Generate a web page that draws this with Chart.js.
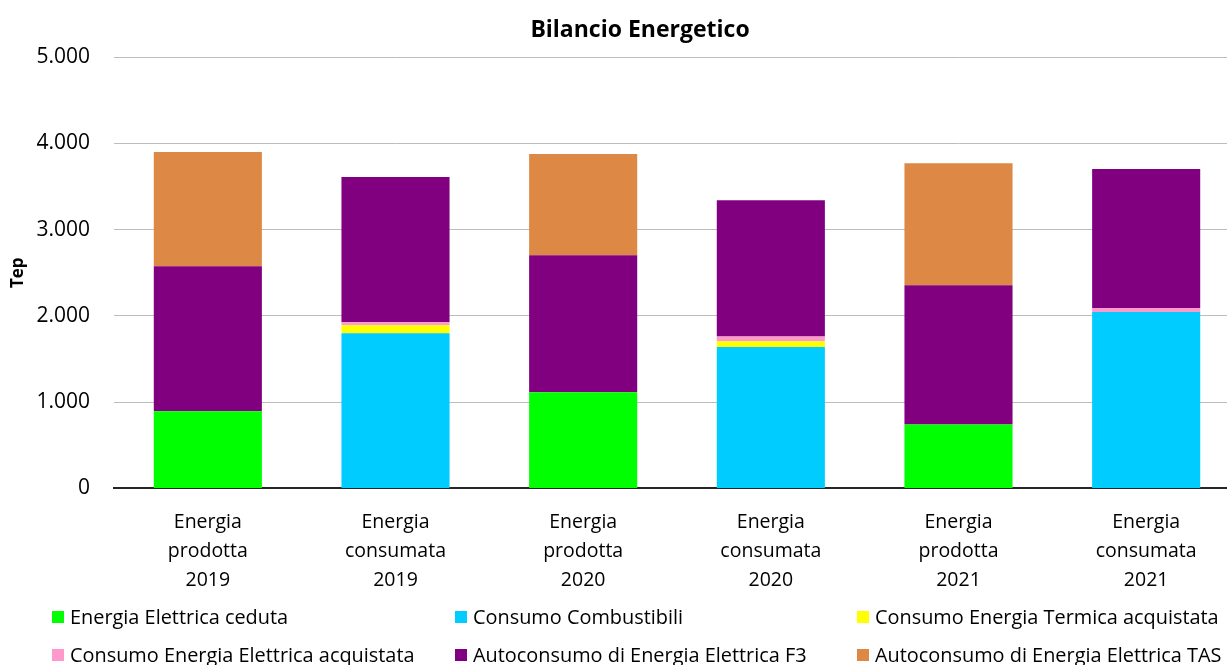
<!DOCTYPE html>
<html><head><meta charset="utf-8">
<script src="https://cdn.jsdelivr.net/npm/chart.js@4.4.1/dist/chart.umd.min.js"></script>
<style>
html,body{margin:0;padding:0;background:#fff;overflow:hidden;}
#wrap{position:relative;width:1227px;height:665px;overflow:hidden;font-family:"Open Sans",sans-serif;}
#cwrap{position:absolute;left:0;top:0;width:1280px;height:617px;}
#title{position:absolute;left:440px;width:400px;top:12px;text-align:center;font-family:"Open Sans",sans-serif;font-weight:bold;font-size:23px;line-height:32px;color:#000;}
#legend{position:absolute;left:0;top:602px;width:1227px;height:63px;}
.li{position:absolute;font-size:19.9px;color:#000;white-space:nowrap;display:flex;align-items:center;line-height:26px;}
.li span.b{display:inline-block;width:12px;height:12px;margin-right:6px;}
</style></head>
<body><div id="wrap"><div id="cwrap"><canvas id="c"></canvas></div><div id="title">Bilancio Energetico</div><div id="legend"></div></div>
<script>
const chartTitle = "Bilancio Energetico";
const categories = [
  ["Energia","prodotta","2019"],
  ["Energia","consumata","2019"],
  ["Energia","prodotta","2020"],
  ["Energia","consumata","2020"],
  ["Energia","prodotta","2021"],
  ["Energia","consumata","2021"]
];
const seriesNames = [
  "Energia Elettrica ceduta",
  "Consumo Combustibili",
  "Consumo Energia Termica acquistata",
  "Consumo Energia Elettrica acquistata",
  "Autoconsumo di Energia Elettrica F3",
  "Autoconsumo di Energia Elettrica TAS"
];
const energiaElettricaCeduta = [893, 0, 1114, 0, 742, 0];
const consumoCombustibili = [0, 1798, 0, 1639, 0, 2045];
const consumoTermica = [0, 93, 0, 66, 0, 0];
const consumoElettricaAcquistata = [0, 35, 0, 55, 0, 43];
const autoconsumoF3 = [1682, 1682, 1589, 1581, 1613, 1613];
const autoconsumoTAS = [1323, 0, 1172, 0, 1415, 0];
const yTicks = [0, 1000, 2000, 3000, 4000, 5000];
const colors = ["#00FF00","#00CCFF","#FFFF00","#FF99CC","#800080","#DD8844"];

document.getElementById('title').textContent = chartTitle;
const seriesValues = [energiaElettricaCeduta, consumoCombustibili, consumoTermica, consumoElettricaAcquistata, autoconsumoF3, autoconsumoTAS];
const datasets = seriesNames.map((n,i)=>({
  label:n, data:seriesValues[i], backgroundColor:colors[i],
  borderWidth:0, barPercentage:0.576, categoryPercentage:1.0
}));
function fmt(v){ return v>=1000 ? Math.floor(v/1000)+"."+String(v%1000).padStart(3,"0") : String(v); }

new Chart(document.getElementById('c'), {
  type:'bar',
  data:{labels:categories, datasets},
  options:{
    responsive:true, maintainAspectRatio:false, animation:false,
    layout:{padding:{left:2,right:40,top:57,bottom:10}},
    plugins:{
      legend:{display:false},
      tooltip:{enabled:false},
      title:{display:false}
    },
    scales:{
      x:{stacked:true,
        grid:{display:false},
        border:{display:true,color:'#262626',width:2},
        ticks:{color:'#000',font:{family:'Open Sans',size:19.5,lineHeight:1.48},padding:12,maxRotation:0,autoSkip:false}
      },
      y:{stacked:true,min:0,max:5000,
        afterBuildTicks:(s)=>{s.ticks=yTicks.map(v=>({value:v}));},
        afterFit:(s)=>{s.width=112;},
        grid:{color:'#bdbdbd',lineWidth:1,drawTicks:false},
        border:{display:false},
        ticks:{color:'#000',font:{family:'Open Sans',size:21},padding:24,callback:(v)=>fmt(v)},
        title:{display:true,text:'Tep',color:'#000',font:{family:'Open Sans',size:17,weight:'bold'},padding:{top:6,bottom:0}}
      }
    }
  }
});

const legendPos = [[52,2],[455,2],[857,2],[52,40],[455,40],[857,40]];
const leg = document.getElementById('legend');
seriesNames.forEach((n,i)=>{
  const d=document.createElement('div'); d.className='li';
  d.style.left=legendPos[i][0]+'px'; d.style.top=legendPos[i][1]+'px';
  const b=document.createElement('span'); b.className='b'; b.style.background=colors[i];
  d.appendChild(b); d.appendChild(document.createTextNode(n)); leg.appendChild(d);
});
</script></body></html>
